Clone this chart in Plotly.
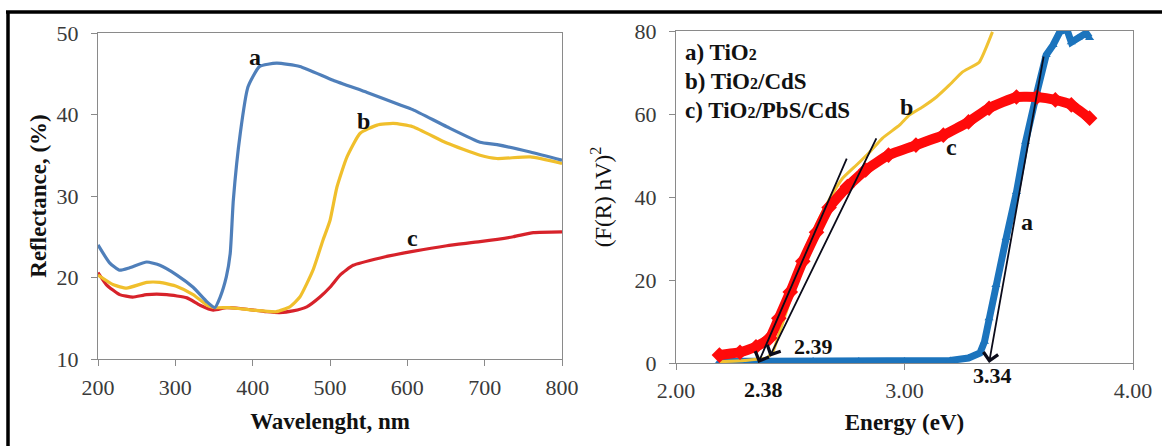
import plotly.graph_objects as go

# ---------------- Left panel: diffuse reflectance ----------------
wl_a = [200, 215, 228, 241, 263, 280, 302, 323, 341, 351, 358, 366, 371, 375, 384, 394, 409, 431,
        461, 504, 548, 590, 607, 651, 694, 716, 759, 800]
R_a = [24.0, 21.8, 20.9, 21.2, 21.9, 21.5, 20.3, 18.8, 17.0, 16.3, 17.6, 20.1, 23.0, 29.5, 37.7,
       43.4, 45.9, 46.3, 45.9, 44.2, 42.7, 41.2, 40.6, 38.5, 36.6, 36.3, 35.4, 34.4]

wl_b = [200, 220, 237, 263, 280, 302, 323, 341, 351, 370, 400, 430, 448, 461, 478, 491, 500, 509,
        522, 539, 561, 582, 607, 651, 694, 716, 759, 800]
R_b = [20.3, 19.1, 18.7, 19.4, 19.4, 18.9, 17.9, 16.6, 16.3, 16.3, 16.0, 15.8, 16.4, 17.6, 20.9,
       24.6, 27.0, 31.1, 34.8, 37.7, 38.7, 38.9, 38.5, 36.5, 35.0, 34.6, 34.8, 34.0]

wl_c = [200, 211, 228, 245, 263, 289, 315, 332, 349, 366, 384, 418, 435, 452, 470, 487, 500, 513,
        530, 565, 607, 651, 694, 737, 763, 800]
R_c = [20.6, 19.1, 17.9, 17.6, 17.9, 17.9, 17.5, 16.6, 16.0, 16.3, 16.2, 15.8, 15.7, 15.9, 16.4,
       17.6, 18.8, 20.3, 21.5, 22.4, 23.2, 23.9, 24.4, 25.0, 25.5, 25.6]

# ---------------- Right panel: Kubelka-Munk (Tauc) plot ----------------
E_a = [2.19, 2.40, 2.60, 2.80, 3.00, 3.20, 3.28, 3.33, 3.35, 3.37, 3.40, 3.445, 3.49, 3.53, 3.58,
       3.62, 3.65, 3.68, 3.71, 3.73, 3.76, 3.795, 3.81]
K_a = [0.4, 0.5, 0.5, 0.5, 0.5, 0.6, 1.2, 2.4, 5.1, 10.8, 18.8, 30.1, 41.2, 53.3, 65.3,
       74.2, 76.6, 79.8, 80.5, 77.3, 78.3, 79.5, 78.3]

E_b = [2.19, 2.30, 2.397, 2.424, 2.454, 2.498, 2.555, 2.616, 2.672, 2.729, 2.79, 2.847, 2.904,
       2.978, 3.022, 3.079, 3.14, 3.197, 3.253, 3.327, 3.385]
K_b = [0.3, 0.6, 1.2, 2.7, 7.5, 15.0, 26.0, 33.5, 39.5, 44.5, 47.7, 50.8, 54.2, 57.3, 59.8,
       61.7, 64.1, 67.0, 70.1, 72.5, 79.8]

E_c = [2.19, 2.28, 2.35, 2.41, 2.45, 2.50, 2.555, 2.615, 2.67, 2.75, 2.83, 2.93, 3.05, 3.17,
       3.28, 3.37, 3.49, 3.58, 3.66, 3.73, 3.81]
K_c = [1.9, 2.6, 3.9, 6.0, 10.8, 17.1, 24.5, 31.5, 37.5, 42.5, 46.5, 50.1, 52.5, 54.9,
       58.1, 61.4, 64.1, 64.1, 63.4, 62.2, 59.0]

# tangent (band-gap) lines: (top point, arrow tip on the energy axis)
tangent_b = [(2.75, 49.6), (2.36, 0.0)]
tangent_c = [(2.88, 54.5), (2.41, 1.5)]
tangent_a = [(3.61, 74.2), (3.37, 0.0)]

gap_labels = ["2.38", "2.39", "3.34"]
gap_label_x = [2.384, 2.60, 3.385]
gap_label_y = [0.0, 4.0, 0.0]
gap_label_shift = [-26, 0, -12]   # pixel offset below the energy axis

legend_lines = ["a) TiO<span style='font-size:16px'>2</span>",
                "b) TiO<span style='font-size:16px'>2</span>/CdS",
                "c) TiO<span style='font-size:16px'>2</span>/PbS/CdS"]

W, H = 1162, 446
SERIF = "Liberation Serif"
AX_GRAY = "#8a8a8a"
TICK_FONT = dict(family=SERIF, size=22, color="#3a3a3a")
TITLE_FONT = dict(family=SERIF, size=23, color="#111111")

fig = go.Figure()

# left curves
fig.add_trace(go.Scatter(x=wl_c, y=R_c, mode="lines", xaxis="x", yaxis="y",
                         line=dict(color="#D7222A", width=3.2, shape="spline", smoothing=0.5)))
fig.add_trace(go.Scatter(x=wl_b, y=R_b, mode="lines", xaxis="x", yaxis="y",
                         line=dict(color="#F0BF2C", width=3.2, shape="spline", smoothing=0.5)))
fig.add_trace(go.Scatter(x=wl_a, y=R_a, mode="lines", xaxis="x", yaxis="y",
                         line=dict(color="#4F7FBA", width=3.2, shape="spline", smoothing=0.5)))

# right curves
fig.add_trace(go.Scatter(x=E_a, y=K_a, mode="lines+markers", xaxis="x2", yaxis="y2",
                         line=dict(color="#1C74BD", width=7),
                         marker=dict(symbol="triangle-up", size=8, color="#1C74BD")))
fig.add_trace(go.Scatter(x=E_b, y=K_b, mode="lines", xaxis="x2", yaxis="y2",
                         line=dict(color="#F0C232", width=3, shape="spline", smoothing=0.4)))
fig.add_trace(go.Scatter(x=E_c, y=K_c, mode="lines+markers", xaxis="x2", yaxis="y2",
                         line=dict(color="#FF0A0A", width=10, shape="spline", smoothing=0.4),
                         marker=dict(symbol="diamond", size=12, color="#FF0A0A")))

annotations = []
# curve letters
for txt, x, y, xr, yr in [("a", 403, 47.0, "x", "y"), ("b", 543, 39.2, "x", "y"),
                          ("c", 607, 24.8, "x", "y"),
                          ("b", 3.01, 61.7, "x2", "y2"), ("c", 3.205, 52.0, "x2", "y2"),
                          ("a", 3.537, 34.0, "x2", "y2")]:
    annotations.append(dict(text="<b>%s</b>" % txt, x=x, y=y, xref=xr, yref=yr, showarrow=False,
                            font=dict(family=SERIF, size=24, color="#111111")))

# tangent lines with arrowheads
for (top, tip) in [tangent_b, tangent_c, tangent_a]:
    annotations.append(dict(text="", x=tip[0], y=tip[1], xref="x2", yref="y2",
                            ax=top[0], ay=top[1], axref="x2", ayref="y2",
                            showarrow=True, arrowhead=4, arrowsize=1.6, arrowwidth=1.8,
                            arrowcolor="#0b0b1a", standoff=0, startstandoff=0))

for txt, x, y, s in zip(gap_labels, gap_label_x, gap_label_y, gap_label_shift):
    annotations.append(dict(text="<b>%s</b>" % txt, x=x, y=y, yshift=s, xref="x2", yref="y2",
                            showarrow=False, font=dict(family=SERIF, size=22, color="#111111")))

# legend text block
for i, line in enumerate(legend_lines):
    annotations.append(dict(text="<b>%s</b>" % line, x=683 / W, y=1 - (52 + 29.5 * i) / H,
                            xref="paper", yref="paper", xanchor="left", yanchor="middle",
                            showarrow=False, font=dict(family=SERIF, size=23, color="#111111")))

shapes = [
    dict(type="line", xref="paper", yref="paper", x0=6 / W, x1=1, y0=1 - 12 / H, y1=1 - 12 / H,
         line=dict(color="black", width=3.5)),
    dict(type="line", xref="paper", yref="paper", x0=8 / W, x1=8 / W, y0=0, y1=1 - 12 / H,
         line=dict(color="black", width=3.5)),
]

common_axis = dict(showgrid=False, zeroline=False, showline=True, linecolor=AX_GRAY, linewidth=1.3,
                   mirror=True, ticks="outside", ticklen=6, tickcolor=AX_GRAY, tickwidth=1.2,
                   tickfont=TICK_FONT, automargin=False)

fig.update_layout(
    width=W, height=H, margin=dict(l=0, r=0, t=0, b=0, autoexpand=False),
    paper_bgcolor="white", plot_bgcolor="white", showlegend=False,
    xaxis=dict(domain=[98 / W, 562 / W], range=[200, 800], dtick=100, anchor="y",
               title=dict(text="<b>Wavelenght, nm</b>", font=TITLE_FONT, standoff=14),
               ticklabelstandoff=2, **common_axis),
    yaxis=dict(domain=[1 - 359 / H, 1 - 33 / H], range=[10, 50], dtick=10, anchor="x",
               title=dict(text="<b>Reflectance, (%)</b>", font=TITLE_FONT, standoff=3),
               ticklabelstandoff=8, **common_axis),
    xaxis2=dict(domain=[676 / W, 1133 / W], range=[2, 4], dtick=1, tickformat=".2f", anchor="y2",
                title=dict(text="<b>Energy (eV)</b>", font=TITLE_FONT, standoff=12),
                ticklabelstandoff=1, **common_axis),
    yaxis2=dict(domain=[1 - 363 / H, 1 - 31 / H], range=[0, 80], dtick=20, anchor="x2",
                title=dict(text="(F(R) hV)<sup>2</sup>", font=dict(family=SERIF, size=23, color="#111111"),
                           standoff=16),
                ticklabelstandoff=8, **common_axis),
    annotations=annotations, shapes=shapes,
)

fig.write_html("out.html")
